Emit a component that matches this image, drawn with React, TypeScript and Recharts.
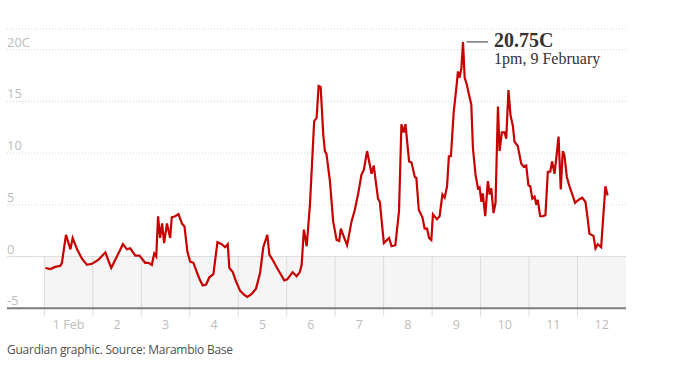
import {
  LineChart,
  Line,
  XAxis,
  YAxis,
  CartesianGrid,
  ReferenceArea,
  ReferenceLine,
  ReferenceDot,
} from "recharts";

// hours since midnight 1 Feb, temperature in C
const HOURS = [
  0.5, 3, 5.4, 7.9, 8.7, 10.7, 12.9, 14, 16.2, 18.6, 21.1, 23.6, 26.8, 30.2, 33.1, 35.9, 38.9, 40.9,
  42.5, 45, 47.1, 49.9, 51.6, 53.2, 54.4, 55.4, 56.3, 57.3, 58.3, 59.3, 60.7, 62.3, 63.1, 64.8, 66.4,
  68.1, 69.4, 70.8, 72.2, 73.8, 75.5, 77.1, 78.4, 80.1, 81.7, 83.7, 85.7, 87.8, 89.5, 90.8, 91.6,
  93.3, 94.9, 96.9, 99, 100.5, 102.7, 104.8, 106.8, 108.4, 110.4, 111.4, 113, 115.8, 118.8, 120.3,
  122.9, 124.9, 126.5, 127.4, 128.5, 129.9, 131.5, 133.6, 134.8, 135.8, 136.8, 138.1, 138.9, 139.7,
  141.4, 143, 144.7, 146, 146.8, 148.3, 149.9, 152.1, 153.7, 155.4, 157, 158.2, 159.8, 162, 163.1,
  165.2, 166.1, 168.1, 170.7, 171.9, 173.8, 175.6, 176.8, 177.9, 178.8, 180.6, 181.8, 183.4, 184.2,
  185.4, 187.2, 188.3, 189.5, 190.5, 191.6, 192.4, 194.4, 195.7, 197.1, 198.2, 199.4, 200.3, 201.3,
  202.7, 204, 204.8, 205.6, 206.5, 207.3, 208.1, 209.2, 210.2, 211.4, 212.2, 213.5, 214.7, 215.5,
  216.4, 217.1, 218.3, 219.6, 220.5, 221.3, 222.4, 223.4, 224.6, 225.4, 226.5, 227.9, 228.7, 229.8,
  230.8, 232, 232.8, 234.4, 236.1, 237.3, 238.6, 239.7, 240.6, 241.6, 242.7, 243.6, 244.3, 245.5,
  246.8, 248.1, 249.3, 250.5, 251.4, 252.6, 253.4, 254.6, 255.7, 256.7, 257.5, 258.7, 260, 261.6,
  262.8, 264.6, 266.3, 267.9, 268.8, 269.9, 271.9, 272.9, 274, 275.7, 276.5, 277.8, 278.9,
];

const TEMPS = [
  -1.1, -1.2, -1.0, -0.9, -0.6, 2.1, 0.7, 1.8, 0.7, -0.2, -0.8, -0.7, -0.3, 0.4, -1.1, 0, 1.2, 0.7,
  0.8, 0.1, 0.1, -0.6, -0.6, -0.8, 0.3, 0, 3.9, 1.8, 3.2, 1.3, 3.2, 1.8, 3.8, 3.9, 4.1,
  3.2, 2.9, 0.5, -0.5, -0.6, -1.5, -2.3, -2.8, -2.7, -2.0, -1.7, 1.4, 1.2, 0.9, 1.2, -1.1,
  -1.5, -2.4, -3.3, -3.7, -3.9, -3.6, -3.1, -1.6, 0.9, 2.1, 0.2, -0.3, -1.3, -2.3, -2.2,
  -1.5, -1.9, -1.5, -0.8, 2.6, 1.0, 5.0, 13.1, 13.4, 16.5, 16.4, 11.8, 10.2, 9.9,
  7.3, 3.4, 1.6, 1.5, 2.7, 1.9, 1.1, 3.4, 4.5, 6.1, 7.9, 8.4, 10.2, 8.0, 8.8,
  5.6, 5.3, 1.3, 1.8, 1.0, 1.1, 4.4, 12.8, 12.0, 12.8, 9.2, 9.1, 7.7, 7.6,
  4.5, 3.8, 2.7, 2.7, 1.8, 1.6, 4.1, 3.6, 3.9, 6.0, 5.7, 6.8, 9.7, 9.7,
  14.0, 16.3, 17.9, 17.3, 18.2, 20.75, 17.3, 16.6, 15.7, 14.7, 10.5, 7.9, 6.6, 6.7,
  5.3, 6.1, 3.9, 7.3, 6.0, 6.6, 4.2, 5.2, 14.5, 10.2, 12.0, 12.0, 11.4, 16.1,
  13.7, 12.6, 11.1, 10.7, 9.0, 8.7, 8.8, 6.9, 6.8, 5.6, 5.8, 5.0, 5.5, 3.9,
  3.9, 4.0, 8.2, 8.2, 9.2, 8.0, 9.4, 11.6, 6.5, 10.2, 9.8, 7.7, 6.8, 5.9,
  5.2, 5.5, 5.7, 5.3, 4.0, 2.2, 2.0, 0.8, 1.2, 0.9, 3.2, 6.8, 5.9,
];

const DAY_STARTS = [0, 24, 48, 72, 96, 120, 144, 168, 192, 216, 240, 264];
const LABEL_HOURS = [12, 36, 60, 84, 108, 132, 156, 180, 204, 228, 252, 276];
const DAY_LABELS = ["1 Feb", "2", "3", "4", "5", "6", "7", "8", "9", "10", "11", "12"];
const Y_TICKS = [-5, 0, 5, 10, 15, 20];
const PEAK_VALUE = "20.75C";
const PEAK_TIME = "1pm, 9 February";
const SOURCE = "Guardian graphic. Source: Marambio Base";

const X_START = -18.5;
const X_END = 288;
const LEFT = 7;
const SANS = "'Open Sans', 'Noto Sans', sans-serif";
const SERIF = "'Liberation Serif', 'DejaVu Serif', serif";

const data = HOURS.map((h, i) => ({ h, t: TEMPS[i] }));
const peakIdx = TEMPS.indexOf(Math.max(...TEMPS));

export default function App() {
  return (
    <div style={{ position: "absolute", left: 0, top: 0, width: 692, height: 367, background: "#fff" }}>
      <LineChart
        width={692}
        height={367}
        data={data}
        margin={{ top: 29, right: 66, left: LEFT - 1, bottom: 28.7 }}
      >
        <ReferenceArea x1={0} x2={X_END} y1={-5} y2={0} fill="#f5f5f5" fillOpacity={1} stroke="none" />
        <CartesianGrid vertical={false} stroke="#d4d4d4" strokeDasharray="1 2" />
        <ReferenceLine y={0} stroke="#dcdcdc" strokeWidth={1} />
        {DAY_STARTS.map((d) => (
          <ReferenceLine
            key={d}
            segment={[
              { x: d, y: 0 },
              { x: d, y: -5.8 },
            ]}
            ifOverflow="visible"
            stroke="#dcdcdc"
            strokeWidth={1}
          />
        ))}
        <XAxis
          dataKey="h"
          type="number"
          domain={[X_START, X_END]}
          ticks={LABEL_HOURS}
          interval={0}
          height={30}
          tickSize={0}
          tickMargin={0}
          axisLine={{ stroke: "#7d7d7d", strokeWidth: 2 }}
          tickLine={false}
          tick={({ x, y, index }) => (
            <text x={x} y={y} dy={21} textAnchor="middle" fill="#bdbdbd" fontSize={12.5} fontFamily={SANS}>
              {DAY_LABELS[index]}
            </text>
          )}
        />
        <YAxis
          type="number"
          domain={[-5, 22]}
          ticks={Y_TICKS}
          interval={0}
          width={1}
          axisLine={false}
          tickLine={false}
          tick={({ y, payload }) => (
            <text x={LEFT} y={y - 3} textAnchor="start" fill="#bdbdbd" fontSize={13} fontFamily={SANS}>
              {payload.value === 20 ? "20C" : String(payload.value)}
            </text>
          )}
        />
        <Line
          type="linear"
          dataKey="t"
          stroke="#c70000"
          strokeWidth={2.2}
          dot={false}
          isAnimationActive={false}
        />
        <ReferenceDot
          x={HOURS[peakIdx]}
          y={TEMPS[peakIdx]}
          r={1}
          fill="none"
          stroke="none"
          label={(props: any) => {
            const vb = props.viewBox || {};
            const cx = vb.x + (vb.width || 0) / 2;
            const cy = vb.y + (vb.height || 0) / 2;
            return (
              <g>
                <line x1={cx + 3.5} x2={cx + 25} y1={cy} y2={cy} stroke="#333" strokeWidth={1} />
                <text x={cx + 31} y={cy + 5.5} fill="#333" fontSize={20} fontWeight="bold" fontFamily={SERIF}>
                  {PEAK_VALUE}
                </text>
                <text x={cx + 31} y={cy + 22} fill="#333" fontSize={16} fontFamily={SERIF}>
                  {PEAK_TIME}
                </text>
              </g>
            );
          }}
        />
      </LineChart>
      <div
        style={{
          position: "absolute",
          left: LEFT,
          top: 343,
          fontFamily: SANS,
          fontSize: 12,
          letterSpacing: "-0.25px",
          lineHeight: "14px",
          color: "#505050",
          whiteSpace: "nowrap",
        }}
      >
        {SOURCE}
      </div>
    </div>
  );
}
